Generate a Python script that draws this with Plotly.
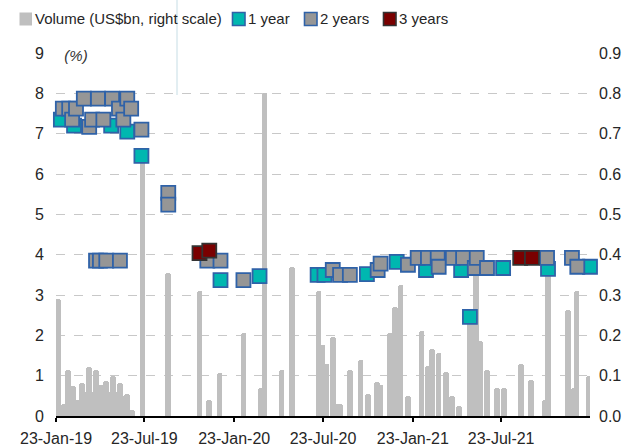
import plotly.graph_objects as go

# ---- data ----
vol_dates = ['2019-01-27','2019-02-08','2019-02-17','2019-02-27','2019-03-09','2019-03-17','2019-03-24',
             '2019-04-01','2019-04-08','2019-04-15','2019-04-25','2019-05-06','2019-05-13','2019-05-20',
             '2019-05-27','2019-06-03','2019-06-10','2019-06-18','2019-06-28','2019-07-19','2019-09-10',
             '2019-11-13','2019-12-03','2019-12-24','2020-02-11','2020-03-17','2020-03-25','2020-04-29',
             '2020-05-20','2020-07-14','2020-07-22','2020-07-30','2020-08-12','2020-08-20','2020-08-27',
             '2020-09-16','2020-10-08','2020-10-23','2020-11-10','2020-11-18','2020-12-07','2020-12-17',
             '2020-12-29','2021-01-13','2021-02-10','2021-02-23','2021-03-03','2021-03-17','2021-04-01',
             '2021-04-13','2021-04-27','2021-05-20','2021-06-01','2021-06-10','2021-06-24','2021-07-14',
             '2021-07-29','2021-09-02','2021-09-22','2021-10-21','2021-10-27','2021-12-07','2021-12-18',
             '2021-12-24','2022-01-19']
vol_values = [0.29, 0.03, 0.115, 0.075, 0.04, 0.082, 0.06,
              0.122, 0.06, 0.114, 0.077, 0.087, 0.06, 0.099,
              0.06, 0.082, 0.05, 0.055, 0.015, 0.64, 0.355,
              0.31, 0.04, 0.107, 0.205, 0.07, 0.80, 0.115,
              0.37, 0.31, 0.175, 0.13, 0.195, 0.03, 0.03,
              0.115, 0.14, 0.055, 0.085, 0.077, 0.205, 0.27,
              0.325, 0.05, 0.21, 0.125, 0.165, 0.157, 0.11,
              0.05, 0.025, 0.245, 0.37, 0.185, 0.115, 0.07,
              0.07, 0.13, 0.09, 0.04, 0.36, 0.263, 0.07,
              0.31, 0.10]

y1_dates = ['2019-02-02','2019-03-01','2019-05-16','2019-06-18','2019-07-17','2019-12-26','2020-03-15',
            '2020-07-12','2020-07-26','2020-10-21','2020-12-21','2021-02-19','2021-05-02','2021-05-20',
            '2021-07-27','2021-10-27','2022-01-21']
y1_values = [7.35, 7.2, 7.2, 7.05, 6.45, 3.37, 3.47,
             3.5, 3.5, 3.52, 3.82, 3.62, 3.62, 2.46,
             3.67, 3.65, 3.7]

y2_dates = ['2019-02-06','2019-02-19','2019-02-25','2019-03-05','2019-03-21','2019-04-01','2019-04-07',
            '2019-04-15','2019-04-19','2019-04-23','2019-04-30','2019-05-06','2019-05-18','2019-06-01',
            '2019-06-03','2019-06-10','2019-06-18','2019-06-26','2019-07-17','2019-09-10','2019-09-10',
            '2019-11-29','2019-12-26','2020-02-11','2020-08-12','2020-08-27','2020-09-16','2020-11-12',
            '2020-11-18','2021-01-13','2021-02-02','2021-02-23','2021-03-15','2021-03-17','2021-04-15',
            '2021-05-06','2021-05-30','2021-06-03','2021-06-24','2021-10-25','2021-12-15','2021-12-26']
y2_values = [7.62, 7.62, 7.35, 7.62, 7.87, 7.17, 7.35,
             3.85, 7.87, 3.85, 7.35, 3.85, 7.87, 7.62,
             3.85, 7.35, 7.87, 7.62, 7.1, 5.53, 5.24,
             3.85, 3.85, 3.37, 3.62, 3.5, 3.5, 3.62,
             3.78, 3.75, 3.92, 3.92, 3.92, 3.7, 3.92,
             3.92, 3.67, 3.92, 3.67, 3.92, 3.92, 3.7]

y3_dates = ['2019-11-13','2019-12-03','2021-08-31','2021-09-24']
y3_values = [4.04, 4.1, 3.92, 3.92]

tick_dates = ['2019-01-23','2019-07-23','2020-01-23','2020-07-23','2021-01-23','2021-07-23']
tick_text = ['23-Jan-19','23-Jul-19','23-Jan-20','23-Jul-20','23-Jan-21','23-Jul-21']
left_ticks = [0, 1, 2, 3, 4, 5, 6, 7, 8, 9]
right_ticks = [0, 0.1, 0.2, 0.3, 0.4, 0.5, 0.6, 0.7, 0.8, 0.9]
legend_names = ["Volume (US$bn, right scale)", "1 year", "2 years", "3 years"]

# ---- styles ----
FONT = "Liberation Sans, Arial, sans-serif"
TXT = "#262626"
BAR_C = "#BFBFBF"
TEAL = "#00B7B0"
GRAY = "#969696"
DRED = "#7A0000"
BLUE_EDGE = "#2F62A8"
DAY_MS = 86400000

W, H = 641, 447
ML, MR, MT, MB = 56, 51, 53, 31
PW, PH = W - ML - MR, H - MT - MB


def px(xp):
    return (xp - ML) / PW


def py(yp):
    return (H - MB - yp) / PH


fig = go.Figure()

fig.add_trace(go.Bar(
    x=vol_dates, y=vol_values, name=legend_names[0],
    width=[11.5 * DAY_MS] * len(vol_dates),
    marker=dict(color=BAR_C, line=dict(width=0), cornerradius="50%"),
    yaxis="y",
))

msize = 14
marker_styles = [
    (y1_dates, y1_values, legend_names[1], TEAL, BLUE_EDGE),
    (y2_dates, y2_values, legend_names[2], GRAY, BLUE_EDGE),
    (y3_dates, y3_values, legend_names[3], DRED, "#333333"),
]
for xs, ys, nm, fc, ec in marker_styles:
    fig.add_trace(go.Scatter(
        x=xs, y=ys, name=nm, mode="markers", yaxis="y2",
        marker=dict(symbol="square", size=msize, color=fc, line=dict(color=ec, width=1.8)),
        cliponaxis=False,
    ))

# manual legend (tight symbol/text spacing like the original)
legend_items = [
    (19.5, BAR_C, BAR_C, 0),
    (232.5, TEAL, BLUE_EDGE, 1.6),
    (304.5, GRAY, BLUE_EDGE, 1.6),
    (383.5, DRED, "#333333", 1.6),
]
shapes = []
annotations = []
for (x0, fc, ec, lw), nm in zip(legend_items, legend_names):
    shapes.append(dict(
        type="rect", xref="paper", yref="paper",
        x0=px(x0), x1=px(x0 + 12.5), y0=py(25.5), y1=py(12.5),
        fillcolor=fc, line=dict(color=ec, width=lw) if lw else dict(width=0),
    ))
    annotations.append(dict(
        text=nm, xref="paper", yref="paper", x=px(x0 + 13), y=py(19),
        xanchor="left", yanchor="middle", showarrow=False,
        font=dict(size=15, color=TXT),
    ))

annotations.append(dict(
    text="<i>(%)</i>", xref="paper", yref="paper", x=px(56), y=py(56),
    xanchor="left", yanchor="middle", showarrow=False,
    bgcolor="white", width=36, align="center",
    font=dict(size=15, color="#333333"),
))

shapes.append(dict(
    type="line", xref="x", yref="paper", x0="2019-09-28", x1="2019-09-28",
    y0=py(95), y1=py(0), line=dict(color="#E2EEF2", width=2),
))

fig.update_layout(
    width=W, height=H,
    margin=dict(l=ML, r=MR, t=MT, b=MB, autoexpand=False),
    paper_bgcolor="white", plot_bgcolor="white",
    font=dict(family=FONT, size=16, color=TXT),
    showlegend=False,
    bargap=0,
    xaxis=dict(
        type="date", range=["2019-01-23", "2022-01-21"],
        tickvals=tick_dates, ticktext=tick_text,
        showline=True, linecolor="black", linewidth=2,
        ticks="outside", ticklen=4, tickwidth=2, tickcolor="black",
        showgrid=False, zeroline=False, ticklabelstandoff=3,
        tickfont=dict(size=16, color=TXT),
    ),
    yaxis=dict(
        range=[0, 0.9], side="right", tickvals=right_ticks,
        ticktext=[f"{v:.1f}" for v in right_ticks],
        showgrid=False, zeroline=False, showline=False, ticks="",
        ticklabelstandoff=8, tickfont=dict(size=16, color=TXT),
    ),
    yaxis2=dict(
        range=[0, 9], side="left", overlaying="y", tickvals=left_ticks,
        showgrid=True, gridcolor="#C8C8C8", griddash="dash", gridwidth=1.3,
        zeroline=False, showline=False, ticks="",
        ticklabelstandoff=11, tickfont=dict(size=16, color=TXT),
    ),
    annotations=annotations,
    shapes=shapes,
)

fig.write_html(
    "out.html",
    config={"displayModeBar": False},
    post_script="document.body.style.margin='0';document.body.style.overflow='hidden';",
)
